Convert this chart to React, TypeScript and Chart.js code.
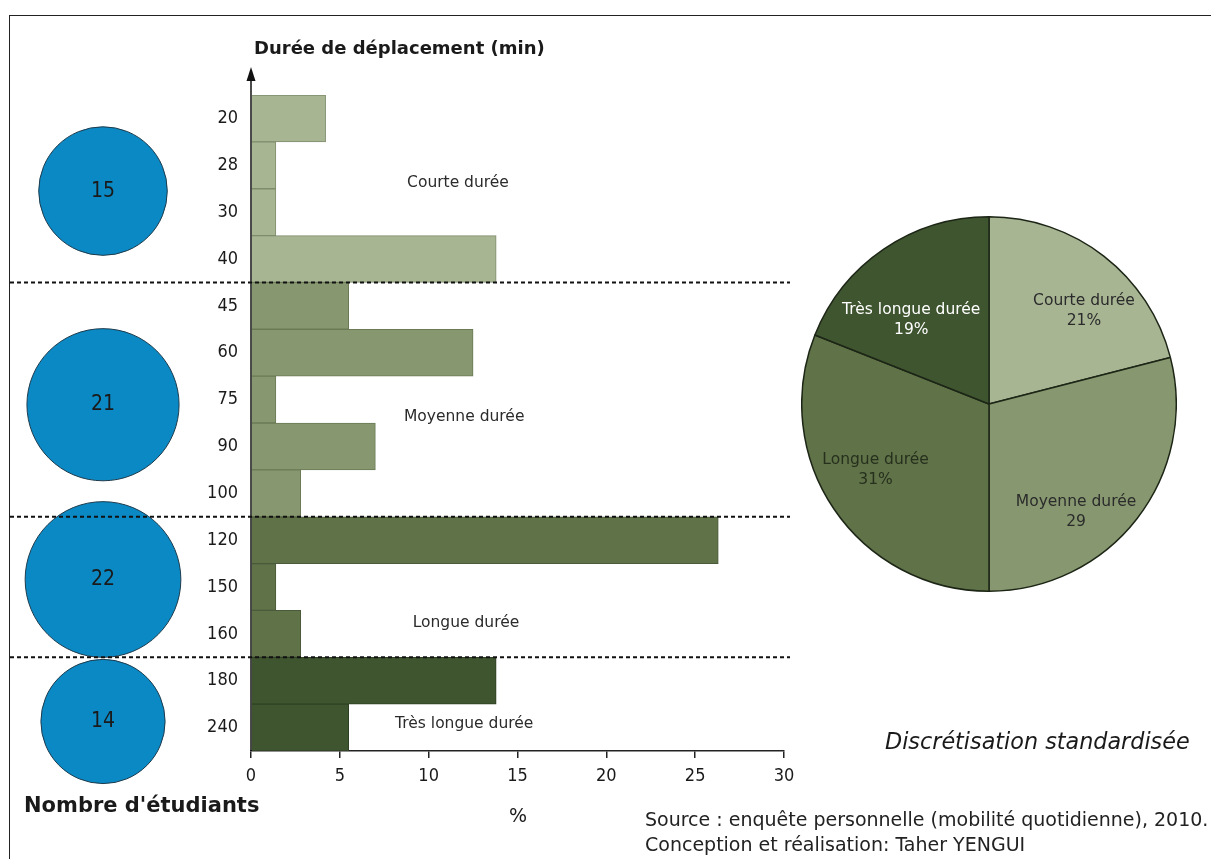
import React, { useEffect, useRef } from "react";
import { Chart, registerables } from "chart.js";
Chart.register(...registerables);

// ---------- data ----------
const durations = ["20", "28", "30", "40", "45", "60", "75", "90", "100", "120", "150", "160", "180", "240"];
const percentShare = [4.2, 1.4, 1.4, 13.8, 5.5, 12.5, 1.4, 7.0, 2.8, 26.3, 1.4, 2.8, 13.8, 5.5];
const durationGroup = [0, 0, 0, 0, 1, 1, 1, 1, 1, 2, 2, 2, 3, 3];
const groupNames = ["Courte durée", "Moyenne durée", "Longue durée", "Très longue durée"];
const groupStudents = [15, 21, 22, 14];
const groupPieValues = [21, 29, 31, 19];
const groupPieTexts = ["21%", "29", "31%", "19%"];
const xTickValues = [0, 5, 10, 15, 20, 25, 30];

// ---------- styles ----------
const groupColors = ["#a7b593", "#879870", "#5f7248", "#3f5530"];
const groupBorders = ["#7f8d6c", "#6a7a55", "#4a5a3a", "#2f4024"];
const pieLabelColors = ["#2b2b2b", "#2b2b2b", "#27301d", "#ffffff"];

// annotation placement (in scale units)
const circleRow = [1.55, 6.11, 9.84, 12.87];
const groupLabelX = [11.65, 12.0, 12.1, 12.0];
const groupLabelRow = [1.38, 6.37, 10.76, 12.93];
const pieLabelAngle = [45.6, 141.1, 239.9, 317.1];
const pieLabelRadius = [0.71, 0.74, 0.7, 0.61];

const FONT_C = '"DejaVu Sans Condensed", "DejaVu Sans", sans-serif';
const FONT = '"DejaVu Sans", sans-serif';

export default function App() {
  const barRef = useRef<HTMLCanvasElement>(null);
  const pieRef = useRef<HTMLCanvasElement>(null);

  useEffect(() => {
    const overlay = {
      id: "overlay",
      afterDatasetsDraw(chart: any) {
        const ctx = chart.ctx;
        const xs = chart.scales.x;
        const ys = chart.scales.y;
        ctx.save();
        // circles (student counts)
        groupStudents.forEach((n, i) => {
          const cy = ys.getPixelForValue(circleRow[i]);
          const r = 16.6 * Math.sqrt(n);
          ctx.beginPath();
          ctx.arc(103, cy, r, 0, Math.PI * 2);
          ctx.fillStyle = "#0a89c4";
          ctx.fill();
          ctx.lineWidth = 1;
          ctx.strokeStyle = "#1d3a4c";
          ctx.stroke();
          ctx.fillStyle = "#1a1a1a";
          ctx.font = `21px ${FONT_C}`;
          ctx.textAlign = "center";
          ctx.textBaseline = "middle";
          ctx.fillText(String(n), 103, cy);
        });
        // dashed separators
        ctx.setLineDash([4, 3]);
        ctx.lineWidth = 2;
        ctx.strokeStyle = "#111";
        for (let i = 1; i < durationGroup.length; i++) {
          if (durationGroup[i] !== durationGroup[i - 1]) {
            const y = (ys.getPixelForValue(i - 1) + ys.getPixelForValue(i)) / 2;
            ctx.beginPath();
            ctx.moveTo(10, y);
            ctx.lineTo(xs.right + 6, y);
            ctx.stroke();
          }
        }
        ctx.setLineDash([]);
        // y axis with arrow
        const ax = xs.getPixelForValue(0);
        ctx.strokeStyle = "#111";
        ctx.lineWidth = 1.5;
        ctx.beginPath();
        ctx.moveTo(ax, xs.top);
        ctx.lineTo(ax, 78);
        ctx.stroke();
        ctx.fillStyle = "#111";
        ctx.beginPath();
        ctx.moveTo(ax, 67);
        ctx.lineTo(ax - 4.5, 81);
        ctx.lineTo(ax + 4.5, 81);
        ctx.closePath();
        ctx.fill();
        // group labels
        ctx.font = `15.5px ${FONT}`;
        ctx.fillStyle = "#2b2b2b";
        ctx.textAlign = "center";
        ctx.textBaseline = "middle";
        groupNames.forEach((g, i) => {
          ctx.fillText(g, xs.getPixelForValue(groupLabelX[i]), ys.getPixelForValue(groupLabelRow[i]));
        });
        ctx.restore();
      },
    };

    const bar = new Chart(barRef.current!, {
      type: "bar",
      data: {
        labels: durations,
        datasets: [
          {
            data: percentShare,
            backgroundColor: durationGroup.map((g) => groupColors[g]),
            borderColor: durationGroup.map((g) => groupBorders[g]),
            borderWidth: 1,
            barPercentage: 1,
            categoryPercentage: 1,
          },
        ],
      },
      options: {
        indexAxis: "y",
        responsive: false,
        animation: false,
        layout: { padding: { left: 191, right: 427, top: 95, bottom: 68 } },
        plugins: { legend: { display: false }, tooltip: { enabled: false } },
        scales: {
          x: {
            type: "linear",
            min: 0,
            max: 30,
            afterFit: (s: any) => {
              s.height = 40;
            },
            afterBuildTicks: (s: any) => {
              s.ticks = xTickValues.map((v) => ({ value: v }));
            },
            grid: { display: true, drawOnChartArea: false, drawTicks: true, tickLength: 7, color: "#222", lineWidth: 1.5 },
            border: { display: true, color: "#222", width: 1.5 },
            ticks: { color: "#1a1a1a", padding: 8, font: { family: FONT_C, size: 18 } },
          },
          y: {
            type: "category",
            afterFit: (s: any) => {
              s.width = 60;
            },
            grid: { display: false, drawTicks: false },
            border: { display: false },
            ticks: { color: "#1a1a1a", padding: 13, font: { family: FONT_C, size: 18 } },
          },
        },
      },
      plugins: [overlay],
    } as any);

    const pieText = {
      id: "pieText",
      afterDatasetsDraw(chart: any) {
        const ctx = chart.ctx;
        const arc = chart.getDatasetMeta(0).data[0];
        const cx = arc.x;
        const cy = arc.y;
        const R = arc.outerRadius;
        ctx.save();
        ctx.font = `15.5px ${FONT}`;
        ctx.textAlign = "center";
        ctx.textBaseline = "middle";
        groupNames.forEach((g, i) => {
          const a = (pieLabelAngle[i] * Math.PI) / 180;
          const x = cx + Math.sin(a) * R * pieLabelRadius[i];
          const y = cy - Math.cos(a) * R * pieLabelRadius[i];
          ctx.fillStyle = pieLabelColors[i];
          ctx.fillText(g, x, y - 10);
          ctx.fillText(groupPieTexts[i], x, y + 10);
        });
        ctx.restore();
      },
    };

    const pie = new Chart(pieRef.current!, {
      type: "pie",
      data: {
        labels: groupNames,
        datasets: [
          {
            data: groupPieValues,
            backgroundColor: groupColors,
            borderColor: "#1d2616",
            borderWidth: 1.5,
          },
        ],
      },
      options: {
        responsive: false,
        animation: false,
        plugins: { legend: { display: false }, tooltip: { enabled: false } },
      },
      plugins: [pieText],
    } as any);

    return () => {
      bar.destroy();
      pie.destroy();
    };
  }, []);

  const txt = (extra: React.CSSProperties): React.CSSProperties => ({
    position: "absolute",
    whiteSpace: "nowrap",
    lineHeight: 1,
    fontFamily: FONT,
    color: "#1a1a1a",
    ...extra,
  });

  return (
    <div style={{ position: "absolute", left: 0, top: 0, width: 1211, height: 859, background: "#fff", overflow: "hidden" }}>
      <div style={{ position: "absolute", left: 9, top: 15, width: 1300, height: 900, borderTop: "1.5px solid #222", borderLeft: "1.5px solid #222" }} />
      <canvas ref={barRef} width={1211} height={859} style={{ position: "absolute", left: 0, top: 0 }} />
      <canvas ref={pieRef} width={376} height={376} style={{ position: "absolute", left: 801, top: 216 }} />
      <div style={txt({ left: 254, top: 39, fontSize: 18, fontWeight: "bold" })}>Durée de déplacement (min)</div>
      <div style={txt({ left: 24, top: 795, fontSize: 21, fontWeight: "bold" })}>Nombre d'étudiants</div>
      <div style={txt({ left: 509, top: 806, fontSize: 19 })}>%</div>
      <div style={txt({ left: 885, top: 730, fontSize: 22.3, fontStyle: "italic" })}>Discrétisation standardisée</div>
      <div style={txt({ left: 645, top: 810, fontSize: 19, color: "#222" })}>Source : enquête personnelle (mobilité quotidienne), 2010.</div>
      <div style={txt({ left: 645, top: 835, fontSize: 19, color: "#222" })}>Conception et réalisation: Taher YENGUI</div>
    </div>
  );
}
